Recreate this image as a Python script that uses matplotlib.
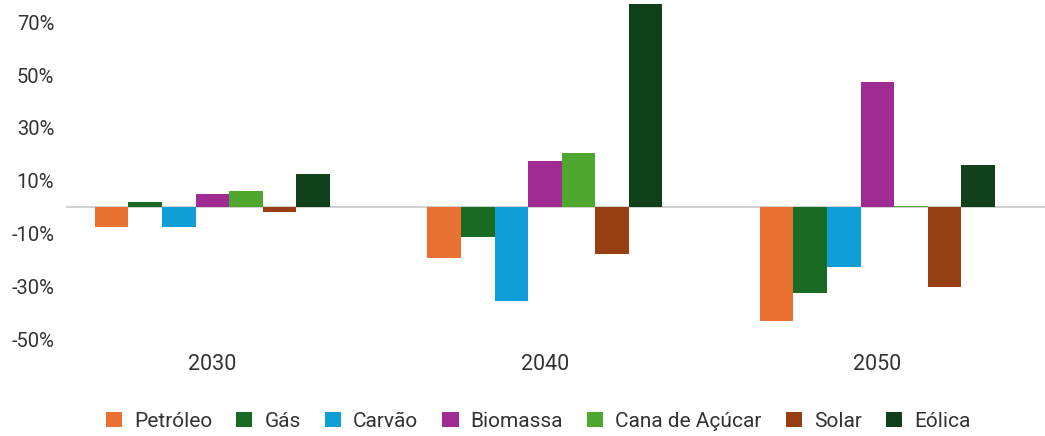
import matplotlib
matplotlib.use("Agg")
import matplotlib.pyplot as plt
import numpy as np

plt.rcParams["font.family"] = ["Roboto", "DejaVu Sans"]

years = ["2030", "2040", "2050"]
series = ["Petróleo", "Gás", "Carvão", "Biomassa", "Cana de Açúcar", "Solar", "Eólica"]
petroleo = [-7.4, -19.1, -43.0]
gas = [2.0, -11.3, -32.5]
carvao = [-7.4, -35.4, -22.6]
biomassa = [5.0, 17.4, 47.4]
cana = [6.1, 20.5, 0.5]
solar = [-1.7, -17.7, -30.2]
eolica = [12.5, 77.0, 16.0]
yticks = [-50, -30, -10, 10, 30, 50, 70]

colors = ["#E97132", "#196B24", "#0F9ED5", "#A02B93", "#4EA72E", "#963F12", "#10411A"]
values = [petroleo, gas, carvao, biomassa, cana, solar, eolica]

fig = plt.figure(figsize=(10.45, 4.36), dpi=100)
ax = fig.add_axes([0.0632, 0.197, 0.9368, 0.803])

x = np.arange(len(years))
w = 0.101
for i, (name, vals, c) in enumerate(zip(series, values, colors)):
    ax.bar(x + (i - 3) * w, vals, width=w, color=c, label=name, zorder=2)

ax.axhline(0, color="#c8c8c8", lw=1.2, zorder=1)
ax.set_xlim(-0.44, 2.504)
ax.set_ylim(-54, 78.4)
ax.set_yticks(yticks)
ax.set_yticklabels([f"{t}%" for t in yticks])
ax.set_xticks(x)
ax.set_xticklabels(years)
ax.tick_params(axis="both", length=0, colors="#333333")
ax.tick_params(axis="y", pad=8.5, labelsize=14.5)
ax.tick_params(axis="x", pad=3, labelsize=15.5)
for s in ax.spines.values():
    s.set_visible(False)

fig.legend(loc="center", bbox_to_anchor=(0.515, 0.034), ncol=7, frameon=False,
           fontsize=15, handlelength=0.78, handleheight=0.78, handletextpad=0.58,
           columnspacing=1.15, labelcolor="#333333")

fig.savefig("out.png", dpi=100)
